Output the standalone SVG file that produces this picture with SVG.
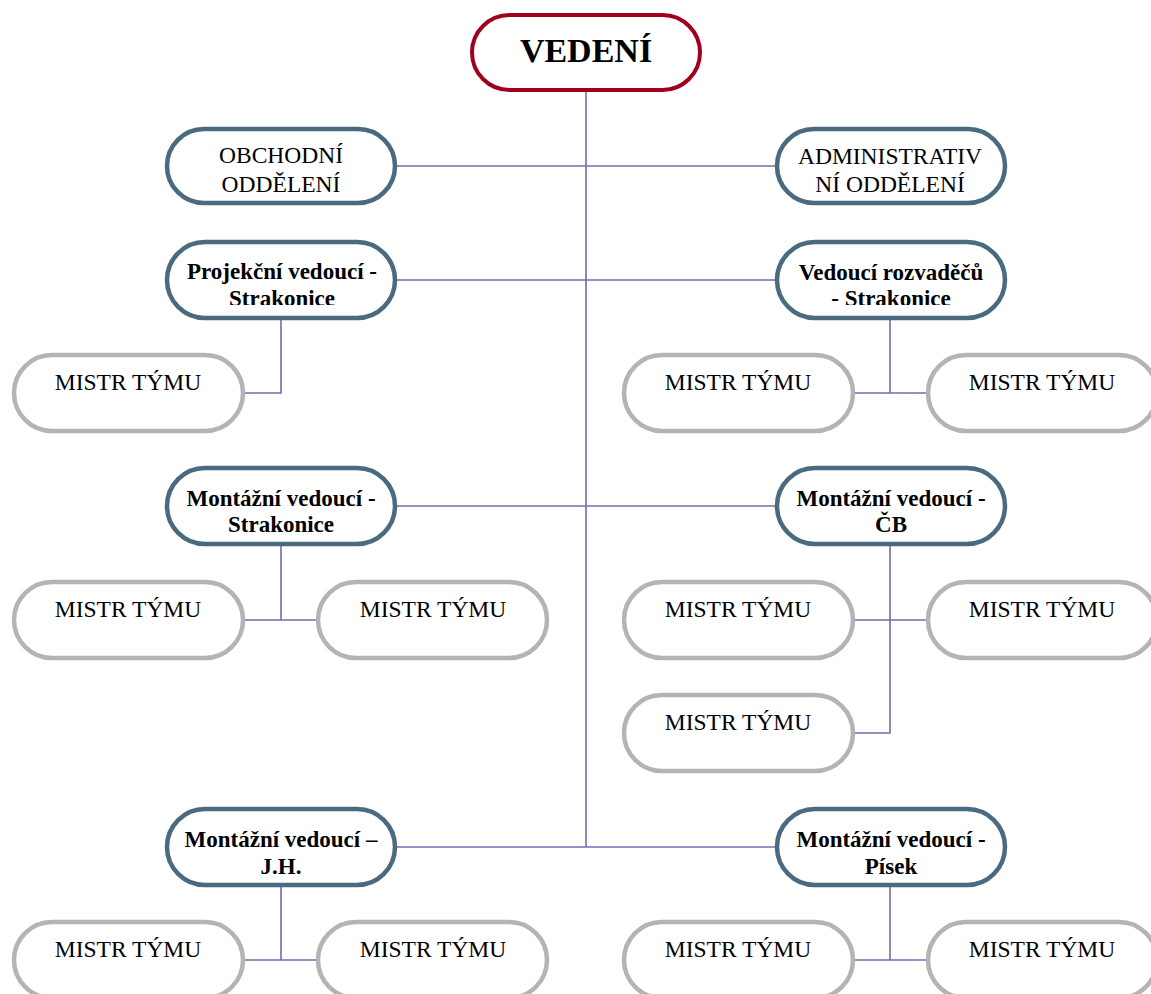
<svg xmlns="http://www.w3.org/2000/svg" width="1151" height="994" viewBox="0 0 1151 994">
<style>
.top{fill:#fff;stroke:#A0001E;stroke-width:4}
.dep{fill:#fff;stroke:#4A6A80;stroke-width:4.5}
.mis{fill:#fff;stroke:#B4B4B4;stroke-width:4.5}
.conn{fill:none;stroke:#6F6FAA;stroke-width:1.6}
text{font-family:"Liberation Serif","Times New Roman",serif;fill:#000;text-anchor:middle}
.t0{font-size:34px;font-weight:bold}
.tr{font-size:23.5px}
.tb{font-size:23px;font-weight:bold}
</style>
<defs>
<clipPath id="c1"><rect x="160" y="230" width="250" height="75"/></clipPath>
<clipPath id="c2"><rect x="770" y="230" width="250" height="75"/></clipPath>
<clipPath id="c3"><rect x="160" y="800" width="250" height="74"/></clipPath>
<clipPath id="c4"><rect x="770" y="800" width="250" height="74"/></clipPath>
</defs>
<g id="connectors">
<path class="conn" d="M586,92 V847"/>
<path class="conn" d="M395,166 H776"/>
<path class="conn" d="M395,280 H776"/>
<path class="conn" d="M395,506 H776"/>
<path class="conn" d="M395,847 H776"/>
<path class="conn" d="M281,318 V393 H243"/>
<path class="conn" d="M890,318 V393 M853,393 H928"/>
<path class="conn" d="M281,545 V620 M243,620 H318"/>
<path class="conn" d="M890,545 V733 H853 M853,620 H928"/>
<path class="conn" d="M281,886 V960 M243,960 H318"/>
<path class="conn" d="M890,886 V960 M853,960 H928"/>
</g>
<g id="vedeni"><rect class="top" x="472" y="15" width="228" height="75" rx="37.5"/><text class="t0" x="586" y="62">VEDENÍ</text></g>
<g id="obchodni"><rect class="dep" x="167" y="129" width="228" height="74" rx="37"/><text class="tr" x="281" y="163">OBCHODNÍ</text><text class="tr" x="281" y="192">ODDĚLENÍ</text></g>
<g id="administrativni"><rect class="dep" x="777" y="129" width="228" height="74" rx="37"/><text class="tr" x="890" y="164">ADMINISTRATIV</text><text class="tr" x="890" y="192">NÍ ODDĚLENÍ</text></g>
<g id="projekcni"><rect class="dep" x="167" y="242" width="228" height="76" rx="38"/><g clip-path="url(#c1)"><text class="tb" x="282" y="279">Projekční vedoucí -</text><text class="tb" x="282" y="306">Strakonice</text></g></g>
<g id="rozvadece"><rect class="dep" x="777" y="242" width="228" height="76" rx="38"/><g clip-path="url(#c2)"><text class="tb" x="891" y="280">Vedoucí rozvaděčů</text><text class="tb" x="891" y="306">- Strakonice</text></g></g>
<g id="montazni-strakonice"><rect class="dep" x="167" y="468" width="228" height="76" rx="38"/><text class="tb" x="281" y="506">Montážní vedoucí -</text><text class="tb" x="281" y="532">Strakonice</text></g>
<g id="montazni-cb"><rect class="dep" x="777" y="468" width="228" height="76" rx="38"/><text class="tb" x="891" y="506">Montážní vedoucí -</text><text class="tb" x="891" y="532">ČB</text></g>
<g id="montazni-jh"><rect class="dep" x="167" y="809" width="228" height="76" rx="38"/><g clip-path="url(#c3)"><text class="tb" x="281" y="847">Montážní vedoucí –</text><text class="tb" x="281" y="874">J.H.</text></g></g>
<g id="montazni-pisek"><rect class="dep" x="777" y="809" width="228" height="76" rx="38"/><g clip-path="url(#c4)"><text class="tb" x="891" y="847">Montážní vedoucí -</text><text class="tb" x="891" y="874">Písek</text></g></g>
<g id="m1"><rect class="mis" x="14" y="355" width="229" height="76" rx="38"/><text class="tr" x="128" y="390">MISTR TÝMU</text></g>
<g id="m2"><rect class="mis" x="624" y="355" width="229" height="76" rx="38"/><text class="tr" x="738" y="390">MISTR TÝMU</text></g>
<g id="m3"><rect class="mis" x="928" y="355" width="229" height="76" rx="38"/><text class="tr" x="1042" y="390">MISTR TÝMU</text></g>
<g id="m4"><rect class="mis" x="14" y="582" width="229" height="76" rx="38"/><text class="tr" x="128" y="617">MISTR TÝMU</text></g>
<g id="m5"><rect class="mis" x="318" y="582" width="229" height="76" rx="38"/><text class="tr" x="433" y="617">MISTR TÝMU</text></g>
<g id="m6"><rect class="mis" x="624" y="582" width="229" height="76" rx="38"/><text class="tr" x="738" y="617">MISTR TÝMU</text></g>
<g id="m7"><rect class="mis" x="928" y="582" width="229" height="76" rx="38"/><text class="tr" x="1042" y="617">MISTR TÝMU</text></g>
<g id="m8"><rect class="mis" x="624" y="695" width="229" height="76" rx="38"/><text class="tr" x="738" y="730">MISTR TÝMU</text></g>
<g id="m9"><rect class="mis" x="14" y="922" width="229" height="76" rx="38"/><text class="tr" x="128" y="957">MISTR TÝMU</text></g>
<g id="m10"><rect class="mis" x="318" y="922" width="229" height="76" rx="38"/><text class="tr" x="433" y="957">MISTR TÝMU</text></g>
<g id="m11"><rect class="mis" x="624" y="922" width="229" height="76" rx="38"/><text class="tr" x="738" y="957">MISTR TÝMU</text></g>
<g id="m12"><rect class="mis" x="928" y="922" width="229" height="76" rx="38"/><text class="tr" x="1042" y="957">MISTR TÝMU</text></g>
</svg>
